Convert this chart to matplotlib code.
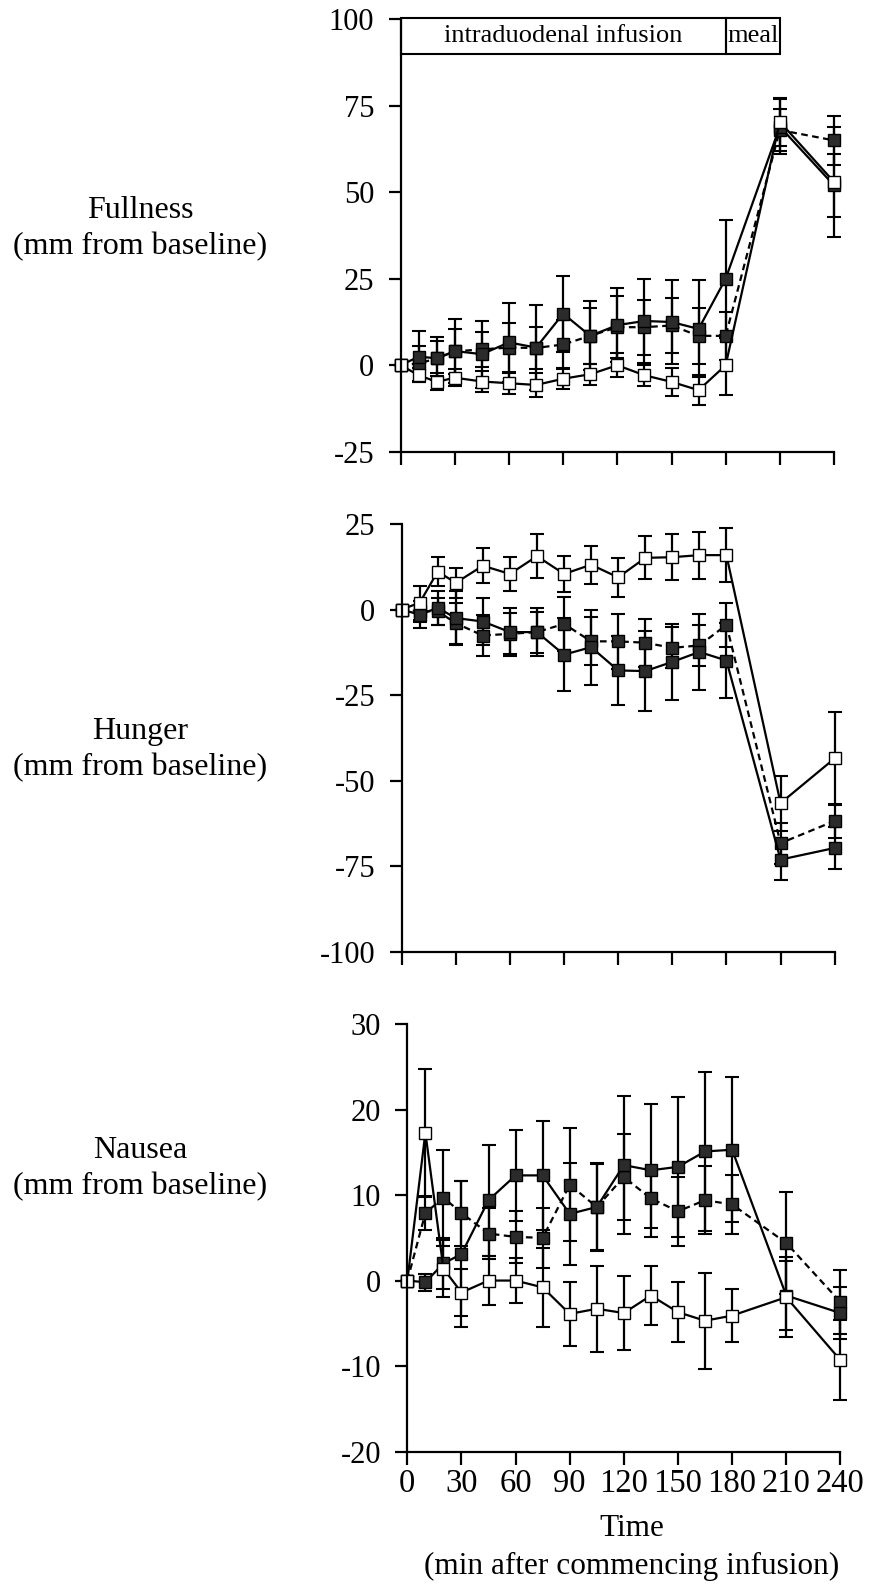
import matplotlib.pyplot as plt
from matplotlib.patches import Rectangle

plt.rcParams['font.family'] = ['Liberation Serif', 'DejaVu Serif']
plt.rcParams['axes.unicode_minus'] = False

time = [0, 10, 20, 30, 45, 60, 75, 90, 105, 120, 135, 150, 165, 180, 210, 240]

# fullness
full_ctrl = [0, -2.9, -4.8, -3.6, -4.7, -5.2, -5.7, -3.9, -2.6, 0, -2.9, -4.8, -7.2, 0, 70.4, 53]
full_ctrl_se = [0, 2, 2.5, 2.5, 3, 3, 3.5, 3, 3, 3.5, 3, 4, 4.3, 8.6, 7, 16]
full_a = [0, 2.5, 2.0, 4.1, 3.2, 6.6, 5.1, 14.9, 8.5, 11.6, 12.8, 12.5, 10.5, 25, 69, 52]
full_a_se = [0, 7.4, 6.3, 9.2, 9.7, 11.3, 12.2, 11, 10, 10.7, 12.2, 12.2, 14, 17, 8, 9]
full_b = [0, 0.5, 2.0, 4.0, 4.6, 5.1, 5.0, 6.0, 8.5, 11, 11, 11.5, 8.5, 8.5, 68, 65]
full_b_se = [0, 5, 5, 6.4, 5, 7, 6, 7, 8, 9, 8, 8, 8, 7, 6, 7]

# hunger
hung_ctrl = [0, 2, 11.1, 7.8, 12.8, 10.4, 15.6, 10.4, 13.1, 9.4, 15.1, 15.3, 15.9, 15.9, -56.6, -43.5]
hung_ctrl_se = [0, 5, 4.2, 4.3, 5.1, 5, 6.4, 5.3, 5.5, 5.6, 6.3, 6.7, 6.9, 7.8, 8, 13.6]
hung_a = [0, -1.5, 0.5, -2.5, -3.5, -6.6, -6.6, -13.2, -11, -17.8, -18, -15.3, -12.4, -14.9, -73.1, -69.7]
hung_a_se = [0, 4, 5, 8, 7, 7, 7, 10.7, 11, 10, 11.7, 11, 11, 11, 6, 6]
hung_b = [0, -0.5, -0.5, -4, -7.6, -7.1, -6.6, -4.2, -9.3, -9.3, -9.7, -11.2, -10.5, -4.5, -68.3, -61.8]
hung_b_se = [0, 3, 4, 6, 6, 6, 6, 8, 7, 8, 7, 6, 6, 6.5, 6, 5]

# nausea
naus_ctrl = [0, 17.3, 1.4, -1.4, 0, 0, -0.8, -3.9, -3.3, -3.8, -1.75, -3.7, -4.7, -4.1, -1.95, -9.3]
naus_ctrl_se = [0, 7.5, 3.3, 2.8, 2.9, 2.65, 4.6, 3.7, 5, 4.3, 3.4, 3.5, 5.6, 3.1, 4.7, 4.7]
naus_a = [0, -0.2, 2.0, 3.1, 9.4, 12.3, 12.3, 7.8, 8.6, 13.5, 12.9, 13.3, 15.1, 15.3, -1.75, -3.8]
naus_a_se = [0, 1, 3, 8.5, 6.5, 5.3, 6.4, 6, 5.1, 8.1, 7.8, 8.2, 9.3, 8.5, 4, 3]
naus_b = [0, 7.9, 9.7, 7.9, 5.5, 5.1, 5.0, 11.2, 8.6, 12.1, 9.6, 8.1, 9.4, 8.9, 4.4, -2.5]
naus_b_se = [0, 2, 5.6, 3.8, 3, 3, 3.5, 6.6, 5, 5, 3.5, 4, 4, 3.5, 6, 3.7]

xticks = [0, 30, 60, 90, 120, 150, 180, 210, 240]


def draw(ax, ctrl, ctrl_se, a, a_se, b, b_se):
    common = dict(color='black', lw=1.6, marker='s', ms=8.5, mec='black',
                  capsize=5, capthick=1.5, elinewidth=1.6)
    ebs = []
    ebs.append(ax.errorbar(time, b, yerr=b_se, ls=(0, (3, 2)), mfc='#2b2b2b', **common))
    ebs.append(ax.errorbar(time, a, yerr=a_se, ls='-', mfc='#2b2b2b', **common))
    ebs.append(ax.errorbar(time, ctrl, yerr=ctrl_se, ls='-', mfc='white', **common))
    for eb in ebs:
        for art in eb.get_children():
            art.set_clip_on(False)
    ax.set_xlim(0, 240)
    ax.set_xticks(xticks)
    for s in ['top', 'right']:
        ax.spines[s].set_visible(False)
    for s in ['left', 'bottom']:
        ax.spines[s].set_linewidth(1.6)
    ax.tick_params(direction='out', length=9, width=1.6, labelsize=22)
    ax.tick_params(axis='y', pad=10)
    ax.tick_params(axis='x', pad=3, labelsize=23.5)


fig = plt.figure(figsize=(8.73, 15.85), dpi=100)

ax1 = fig.add_axes([0.459, 0.715, 0.4963, 0.2728])
draw(ax1, full_ctrl, full_ctrl_se, full_a, full_a_se, full_b, full_b_se)
ax1.set_ylim(-25, 100)
ax1.set_yticks([-25, 0, 25, 50, 75, 100])
ax1.tick_params(axis='x', labelbottom=False)
ax1.add_patch(Rectangle((0, 90), 180, 10.5, fill=False, lw=1.5, clip_on=False))
ax1.add_patch(Rectangle((180, 90), 30, 10.5, fill=False, lw=1.5, clip_on=False))
ax1.text(90, 95.2, 'intraduodenal infusion', ha='center', va='center', fontsize=19)
ax1.text(195, 95.2, 'meal', ha='center', va='center', fontsize=19)

ax2 = fig.add_axes([0.4601, 0.3996, 0.496, 0.2698])
draw(ax2, hung_ctrl, hung_ctrl_se, hung_a, hung_a_se, hung_b, hung_b_se)
ax2.set_ylim(-100, 25)
ax2.set_yticks([-100, -75, -50, -25, 0, 25])
ax2.tick_params(axis='x', labelbottom=False)

ax3 = fig.add_axes([0.4666, 0.0842, 0.496, 0.2697])
draw(ax3, naus_ctrl, naus_ctrl_se, naus_a, naus_a_se, naus_b, naus_b_se)
ax3.set_ylim(-20, 30)
ax3.set_yticks([-20, -10, 0, 10, 20, 30])

fig.text(0.161, 0.856, 'Fullness\n(mm from baseline)', ha='center', va='center',
         fontsize=23, linespacing=1.3)
fig.text(0.161, 0.527, 'Hunger\n(mm from baseline)', ha='center', va='center',
         fontsize=23, linespacing=1.3)
fig.text(0.161, 0.2625, 'Nausea\n(mm from baseline)', ha='center', va='center',
         fontsize=23, linespacing=1.3)
fig.text(0.724, 0.0235, 'Time\n(min after commencing infusion)', ha='center', va='center',
         fontsize=22.5, linespacing=1.4)

fig.savefig('out.png', dpi=100)
